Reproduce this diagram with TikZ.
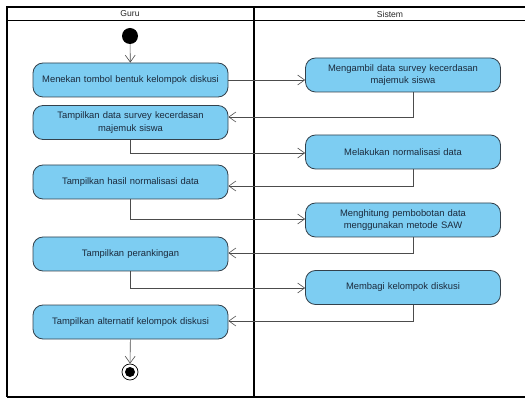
\documentclass[tikz,border=0pt]{standalone}
\usepackage{fontspec}
\setmainfont{Liberation Sans}
\usetikzlibrary{arrows.meta}
\definecolor{actfill}{HTML}{7DCDF2}
\definecolor{actdraw}{HTML}{33414C}
\definecolor{acttext}{HTML}{1B2A3C}
\tikzset{
  act/.style={draw=actdraw, line width=0.8pt, fill=actfill, rounded corners=10pt,
    minimum height=34pt, text width=195pt, align=center, inner sep=0pt,
    font=\fontsize{9.4}{12.5}\selectfont, text=acttext},
  flow/.style={draw=black!70, line width=0.6pt, -{Straight Barb[length=7pt,width=10pt]}},
  lane/.style={draw=black, line width=1.4pt},
  hdr/.style={font=\fontsize{8.6}{10}\selectfont, text=black!85}
}
\begin{document}
\begin{tikzpicture}[x=1pt,y=-1pt]
\useasboundingbox (0,0) rectangle (525,398);
% swimlane frame
\draw[lane] (7,397) -- (7,7) -- (527,7);
\draw[lane] (7,20.5) -- (527,20.5);
\draw[lane] (254,7) -- (254,397);
\draw[lane] (7,397) -- (527,397);
\node[hdr] (hg) at (130,14) {Guru};
\node[hdr] (hs) at (390,14) {Sistem};
% start / end
\node[circle, fill=black, minimum size=16pt, inner sep=0pt] (start) at (130,36) {};
\node[circle, draw=black, line width=0.7pt, fill=white, minimum size=16pt, inner sep=0pt] (endo) at (130,372) {};
\node[circle, fill=black, minimum size=10pt, inner sep=0pt] (endi) at (130,372) {};
% activities
\node[act] (g1) at (130.5,80) {Menekan tombol bentuk kelompok diskusi};
\node[act] (g2) at (130.5,122.5) {Tampilkan data survey kecerdasan\\ majemuk siswa};
\node[act] (g3) at (130.5,182) {Tampilkan hasil normalisasi data};
\node[act] (g4) at (130.5,254) {Tampilkan perankingan};
\node[act] (g5) at (130.5,322) {Tampilkan alternatif kelompok diskusi};
\node[act] (s1) at (403,75) {Mengambil data survey kecerdasan\\ majemuk siswa};
\node[act] (s2) at (403,152) {Melakukan normalisasi data};
\node[act] (s3) at (403,220) {Menghitung pembobotan data\\ menggunakan metode SAW};
\node[act] (s4) at (403,287.5) {Membagi kelompok diskusi};
% connectors
\draw[flow] (start) -- (g1);
\draw[flow] (g1.east) -- (s1.west |- g1.east);
\coordinate (c1) at (413,117);
\draw[flow] (s1.south -| c1) -- (c1) -- (g2.east |- c1);
\coordinate (c2) at (130,153);
\draw[flow] (g2.south -| c2) -- (c2) -- (s2.west |- c2);
\coordinate (c3) at (413,186);
\draw[flow] (s2.south -| c3) -- (c3) -- (g3.east |- c3);
\coordinate (c4) at (130,219);
\draw[flow] (g3.south -| c4) -- (c4) -- (s3.west |- c4);
\coordinate (c5) at (413,253);
\draw[flow] (s3.south -| c5) -- (c5) -- (g4.east |- c5);
\coordinate (c6) at (130,288);
\draw[flow] (g4.south -| c6) -- (c6) -- (s4.west |- c6);
\coordinate (c7) at (413,321);
\draw[flow] (s4.south -| c7) -- (c7) -- (g5.east |- c7);
\draw[flow] (g5) -- (endo);
\end{tikzpicture}
\end{document}
